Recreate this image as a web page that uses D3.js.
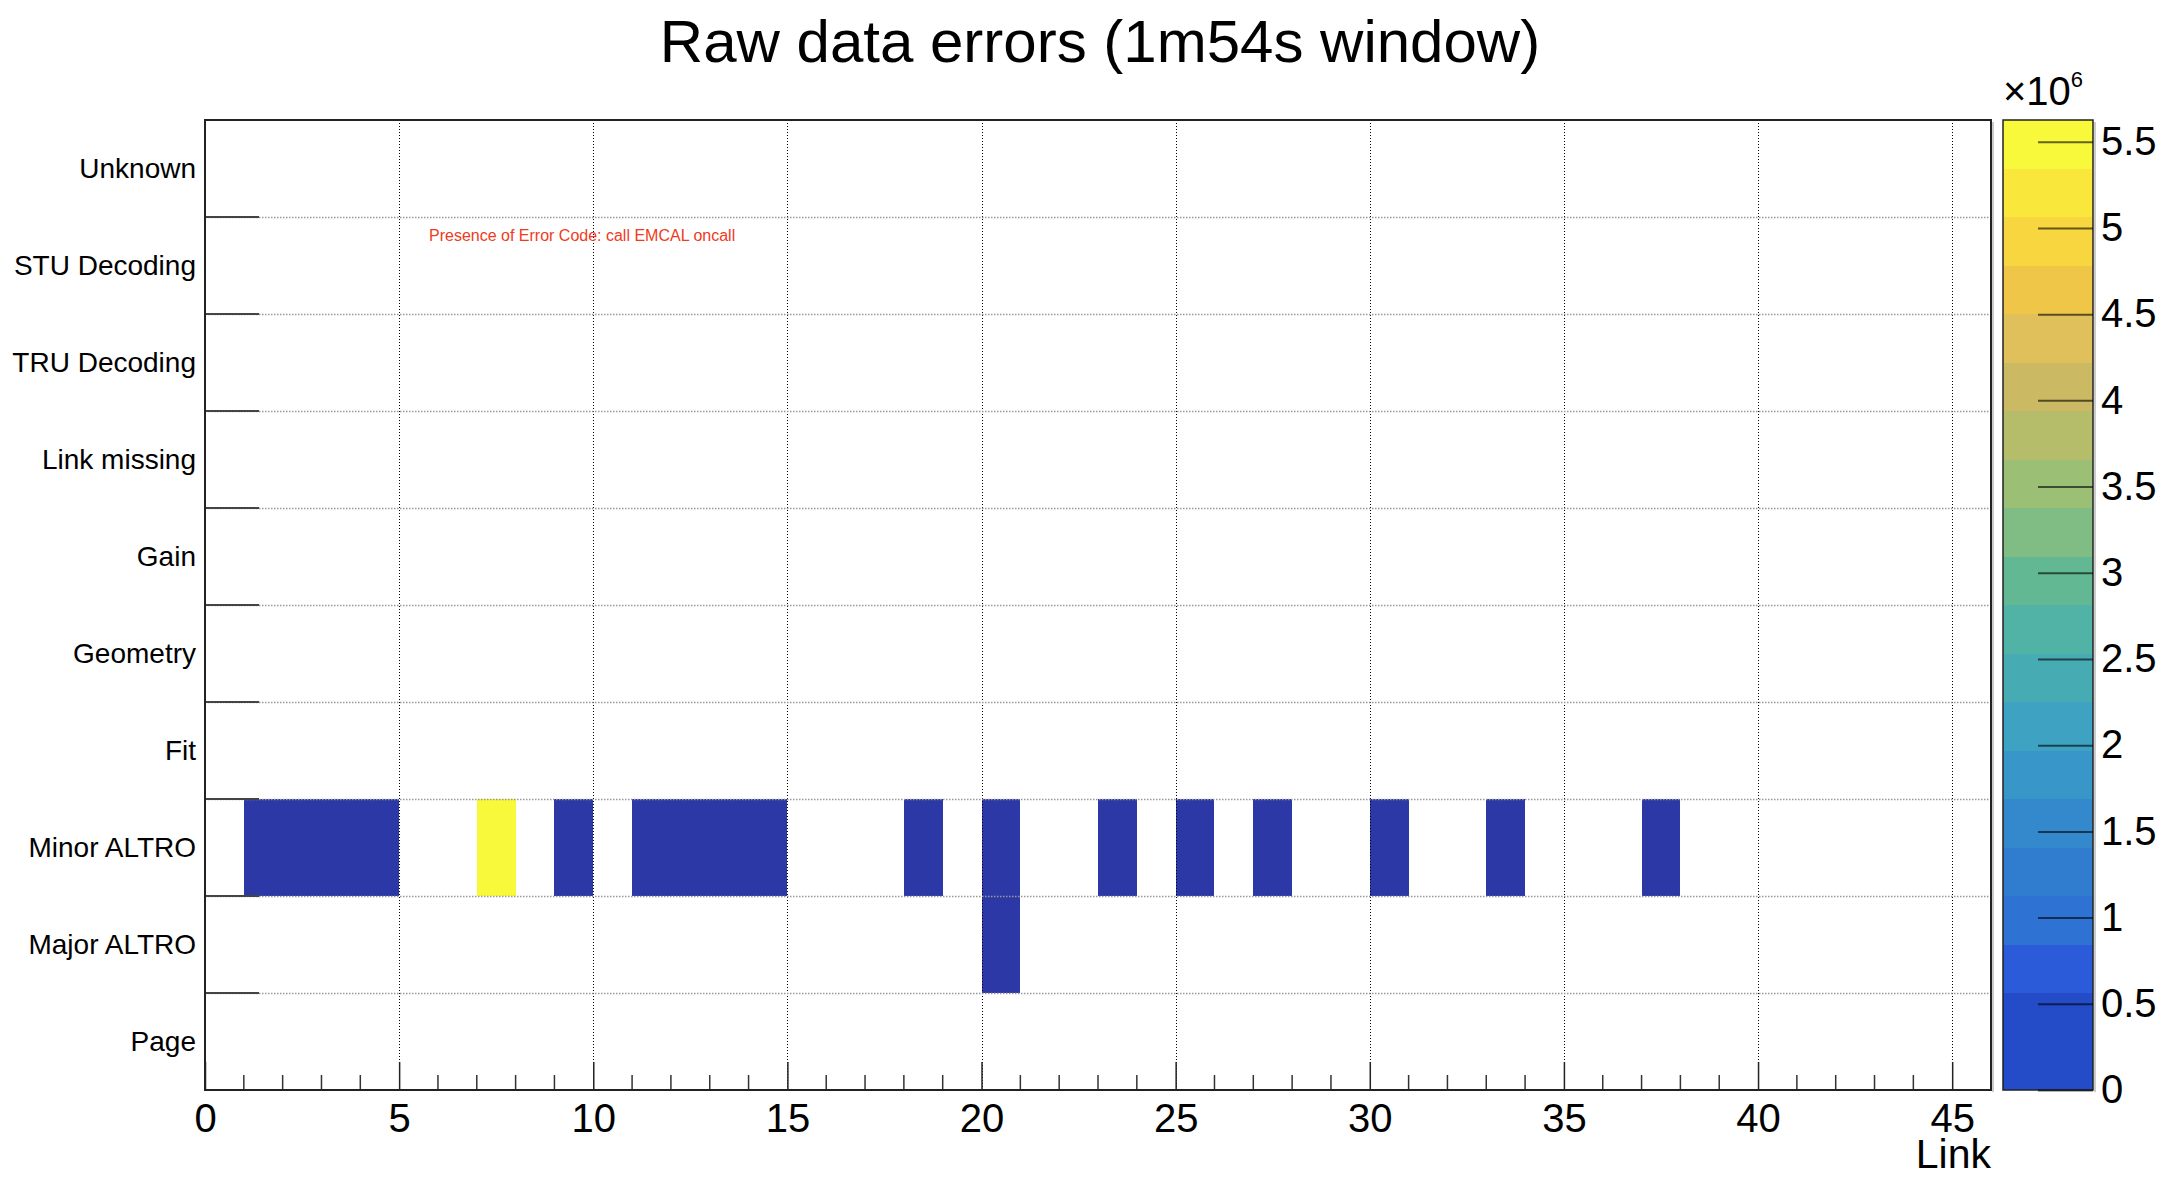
<!DOCTYPE html>
<html>
<head>
<meta charset="utf-8">
<script src="https://cdn.jsdelivr.net/npm/d3@7"></script>
<style>
  html, body { margin: 0; padding: 0; background: #fff; }
  svg { display: block; font-family: "Liberation Sans", Arial, Helvetica, sans-serif; }
</style>
</head>
<body>
<svg id="chart" width="2176" height="1183"></svg>
<script>
// ---- data ----
const title = "Raw data errors (1m54s window)";
const categories = ["Page", "Major ALTRO", "Minor ALTRO", "Fit", "Geometry", "Gain",
                    "Link missing", "TRU Decoding", "STU Decoding", "Unknown"];
const xLabel = "Link";
const xTicks = [0, 5, 10, 15, 20, 25, 30, 35, 40, 45];
const zTicks = [0, 0.5, 1, 1.5, 2, 2.5, 3, 3.5, 4, 4.5, 5, 5.5];   // x10^6
const zMax = 5.626e6;
// cells: link bin (lower edge), category, count
const minorAltroLinks  = [1, 2, 3, 4, 7, 9, 11, 12, 13, 14, 18, 20, 23, 25, 27, 30, 33, 37];
const minorAltroValues = [42000, 40000, 41000, 39000, 5626000, 38000, 40000, 41000, 39000, 42000,
                          37000, 36000, 38000, 39000, 40000, 37000, 38000, 36000];
const majorAltroLinks  = [20];
const majorAltroValues = [35000];
const palette = ["#244bc8", "#244bc8", "#2b5bd8", "#2e72d3", "#307dd0", "#3389cc", "#3896c9",
                 "#3ea2c2", "#47abb3", "#50b3a6", "#62b893", "#7fbd85", "#9cbf76", "#b5bd6a",
                 "#cbb963", "#dfc05a", "#efc648", "#f7d640", "#f9e83b", "#f8f93a"];
const lowCellColor = "#2c38a5";
const note = "Presence of Error Code: call EMCAL oncall";

// ---- layout ----
const svg = d3.select("#chart");
const L = 205, R = 1991, T = 120, B = 1090;
const x = d3.scaleLinear().domain([0, 46]).range([L, R]);
const y = d3.scaleLinear().domain([0, categories.length]).range([B, T]);
const zBand = d3.scaleQuantize().domain([0, zMax]).range(palette);
const cellColor = v => { const c = zBand(v); return c === palette[0] ? lowCellColor : c; };

const cells = [];
minorAltroLinks.forEach((l, i) => cells.push({ link: l, cat: "Minor ALTRO", v: minorAltroValues[i] }));
majorAltroLinks.forEach((l, i) => cells.push({ link: l, cat: "Major ALTRO", v: majorAltroValues[i] }));

// cells
svg.append("g").attr("shape-rendering", "crispEdges")
  .selectAll("rect").data(cells).join("rect")
  .attr("x", d => x(d.link))
  .attr("width", d => x(d.link + 1) - x(d.link))
  .attr("y", d => y(categories.indexOf(d.cat) + 1))
  .attr("height", d => y(categories.indexOf(d.cat)) - y(categories.indexOf(d.cat) + 1))
  .attr("fill", d => cellColor(d.v));

// grid
const grid = svg.append("g");
grid.selectAll("line.gx").data(xTicks.filter(t => t > 0)).join("line")
  .attr("x1", d => Math.round(x(d)) + 0.5).attr("x2", d => Math.round(x(d)) + 0.5)
  .attr("y1", T).attr("y2", B)
  .attr("stroke", "#000").attr("stroke-width", 1).attr("stroke-dasharray", "1,2");
grid.selectAll("line.gy").data(d3.range(1, categories.length)).join("line")
  .attr("x1", L).attr("x2", R)
  .attr("y1", d => Math.round(y(d)) + 0.5).attr("y2", d => Math.round(y(d)) + 0.5)
  .attr("stroke", "#999").attr("stroke-width", 1.5).attr("stroke-dasharray", "1.5,1.5");

// y ticks at bin boundaries
svg.append("g").selectAll("line").data(d3.range(1, categories.length)).join("line")
  .attr("x1", L).attr("x2", L + 54)
  .attr("y1", d => y(d)).attr("y2", d => y(d))
  .attr("stroke", "#444").attr("stroke-width", 2);

// x minor ticks
svg.append("g").selectAll("line").data(d3.range(1, 46).filter(d => d % 5 !== 0)).join("line")
  .attr("x1", d => x(d)).attr("x2", d => x(d))
  .attr("y1", B).attr("y2", B - 15)
  .attr("stroke", "#333").attr("stroke-width", 1.5);

// x axis major ticks + labels
const xAxis = d3.axisBottom(x).tickValues(xTicks).tickSize(-28).tickPadding(0).tickFormat(d3.format("d"));
const gx = svg.append("g").attr("transform", `translate(0,${B})`).call(xAxis);
gx.select(".domain").remove();
gx.selectAll(".tick line").attr("stroke", "#222").attr("stroke-width", 1.5);
gx.selectAll(".tick text").attr("font-size", 40).attr("fill", "#000")
  .attr("dy", null).attr("y", 42);

// y axis labels
svg.append("g").selectAll("text").data(categories).join("text")
  .attr("x", 196)
  .attr("y", (d, i) => (y(i) + y(i + 1)) / 2)
  .attr("text-anchor", "end").attr("dominant-baseline", "central")
  .attr("font-size", 28).attr("fill", "#000")
  .text(d => d);

// frame
svg.append("rect").attr("x", R + 1).attr("y", T + 2).attr("width", 2).attr("height", B - T)
  .attr("fill", "#ccc");
svg.append("rect").attr("x", L).attr("y", T).attr("width", R - L).attr("height", B - T)
  .attr("fill", "none").attr("stroke", "#222").attr("stroke-width", 2);

// x label
svg.append("text").attr("x", R).attr("y", 1168).attr("text-anchor", "end")
  .attr("font-size", 41).attr("fill", "#000").text(xLabel);

// title
svg.append("text").attr("x", 1100).attr("y", 62).attr("text-anchor", "middle")
  .attr("font-size", 60).attr("fill", "#000").text(title);

// note
svg.append("text").attr("x", 429).attr("y", 241).attr("font-size", 16)
  .attr("fill", "#ee3b22").text(note);

// ---- colour bar ----
const CL = 2003, CR = 2093;
const zy = d3.scaleLinear().domain([0, zMax]).range([B, T]);
const bandStep = zMax / palette.length;
svg.append("g").attr("shape-rendering", "crispEdges")
  .selectAll("rect").data(palette).join("rect")
  .attr("x", CL).attr("width", CR - CL)
  .attr("y", (d, i) => zy((i + 1) * bandStep))
  .attr("height", (d, i) => zy(i * bandStep) - zy((i + 1) * bandStep))
  .attr("fill", d => d);
svg.append("rect").attr("x", CR + 1).attr("y", T + 2).attr("width", 2).attr("height", B - T)
  .attr("fill", "#ccc");
svg.append("rect").attr("x", CL).attr("y", T).attr("width", CR - CL).attr("height", B - T)
  .attr("fill", "none").attr("stroke", "#222").attr("stroke-width", 1.5);
const zAxis = d3.axisRight(zy).tickValues(zTicks.map(t => t * 1e6)).tickSize(-55).tickPadding(8)
  .tickFormat(d => d3.format("")(+(d / 1e6).toFixed(1)));
const gz = svg.append("g").attr("transform", `translate(${CR},0)`).call(zAxis);
gz.select(".domain").remove();
gz.selectAll(".tick line").attr("stroke", "rgba(0,0,0,0.6)").attr("stroke-width", 2);
gz.selectAll(".tick text").attr("font-size", 40).attr("fill", "#000");

// exponent
const ex = svg.append("text").attr("x", 2003).attr("y", 105).attr("font-size", 40).attr("fill", "#000");
ex.append("tspan").text("×10");
ex.append("tspan").attr("font-size", 22).attr("dy", -18).text("6");
</script>
</body>
</html>
